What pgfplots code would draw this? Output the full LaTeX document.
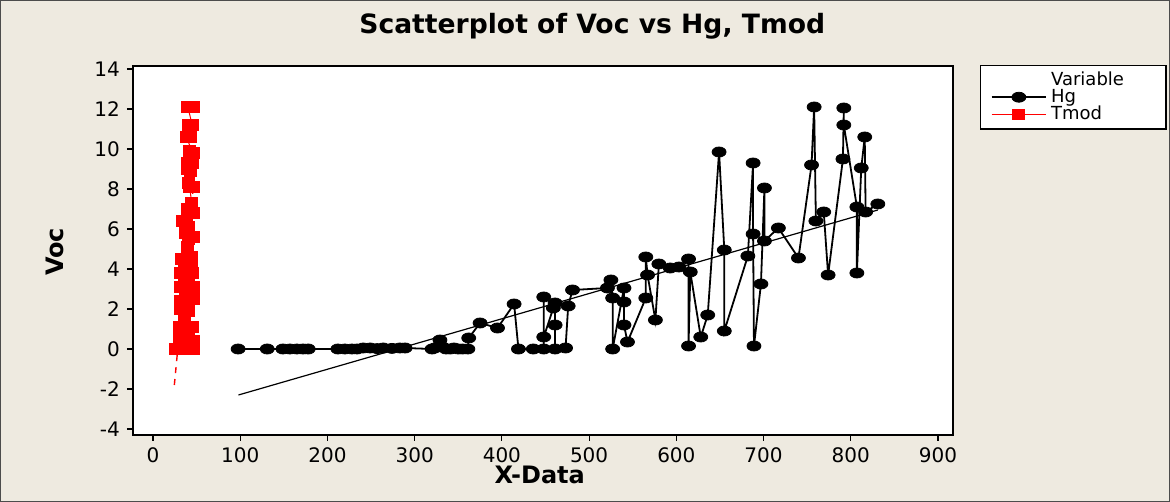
\documentclass[border=0pt]{standalone}
\usepackage{pgfplots}
\pgfplotsset{compat=1.18}
\usepackage{fontspec}
\setmainfont{DejaVu Sans}
\definecolor{bgbeige}{RGB}{238,234,224}

\pgfplotstableread{
x y
97.6 0
131 0
149 0
157 0
165 0
172 0
178 0
212 0
220 0
228 0
234 0
241 0.05
249 0.05
257 0.02
264 0.05
274 0.03
283 0.05
289 0.05
320 0
323 0.05
329 0.45
332 0.1
336 0
341 0
345 0.05
350 0
355 0
361 0
362 0.55
375 1.3
395 1.05
414 2.25
419 0
436 0
448 0
448 2.6
448 0.6
459 2.05
461 2.3
461 1.2
461 0
473 0.05
476 2.15
481 2.95
521 3.05
525 3.45
527 2.55
527 0
540 3.05
540 2.35
540 1.2
544 0.35
565 2.55
565 4.6
567 3.7
576 1.45
580 4.25
593 4.05
603 4.1
614 4.5
614 0.15
616 3.85
628 0.6
636 1.7
649 9.85
655 4.95
655 0.9
682 4.65
688 9.3
688 5.75
689 0.15
697 3.25
701 8.05
701 5.4
717 6.05
740 4.55
755 9.2
758 12.1
760 6.4
769 6.85
774 3.7
791 9.5
792 12.05
792 11.2
807 7.1
807 3.8
812 9.05
816 10.6
817 6.85
831 7.25
}\hgdata

\pgfplotstableread{
x y
26 0
30 0
34 0
38 0
42 0
46 0
31 0.3
47 0.4
30 0.5
35 0.6
41 0.5
30 1.1
35 1.0
40 0.9
45 1.1
32 2.0
36 1.7
41 1.9
32 2.4
37 2.6
41 2.3
46 2.5
32 3.1
37 3.2
42 3.0
47 3.1
32 3.8
36 3.5
41 3.7
45 3.8
33 4.5
36 4.3
40 4.1
44 4.2
40 4.8
44 4.6
40 5.1
37 5.8
41 5.5
46 5.6
34 6.4
38 6.3
41 6.1
40 7.0
44 7.3
46 6.8
42 8.1
46 8.1
41 8.3
39 9.0
43 8.9
40 9.3
45 9.3
42 9.9
46 9.8
38 10.6
43 10.6
41 11.2
45 11.2
40 12.1
44 12.1
47 12.1
}\tmoddata

\begin{document}
\begin{tikzpicture}
% page background: 1170x502 px at 0.5pt per px, axis box corner at the origin
\fill[bgbeige] (-66.5pt,-33.5pt) rectangle (518.5pt,217.5pt);
\draw[black!70, line width=0.6pt] (-66.2pt,-33.2pt) rectangle (518.2pt,217.2pt);
\begin{axis}[
    scale only axis,
    width=410pt, height=184.5pt,
    xmin=-22.9, xmax=917.2,
    ymin=-4.3, ymax=14.15,
    xtick={0,100,...,900},
    ytick={-4,-2,...,14},
    tick pos=left,
    tick align=outside,
    major tick length=3pt,
    axis line style={line width=0.8pt},
    tick style={black, line width=0.6pt},
    axis background/.style={fill=white},
    ticklabel style={font=\fontsize{10}{12}\selectfont},
    /pgf/number format/assume math mode=true,
    title={\textbf{Scatterplot of Voc vs Hg, Tmod}},
    title style={at={(rel axis cs:0.56,1.076)}, anchor=center, font=\fontsize{13.3}{15}\selectfont},
    xlabel={\textbf{X-Data}},
    xlabel style={at={(rel axis cs:0.496,-0.107)}, anchor=center, inner sep=0pt, font=\fontsize{12}{13}\selectfont},
    ylabel={\textbf{Voc}},
    ylabel style={at={(rel axis cs:-0.095,0.496)}, anchor=center, inner sep=0pt, font=\fontsize{12}{13}\selectfont},
    legend style={at={(rel axis cs:1.033,1.003)}, anchor=north west,
        draw=black, line width=0.6pt, fill=white,
        font=\fontsize{9}{10}\selectfont,
        row sep=-3.5pt, inner xsep=5pt, inner ysep=1pt},
    legend cell align=left,
    legend image code/.code={%
        \draw[mark repeat=2,mark phase=2,#1]
        plot coordinates {(0cm,0cm) (0.48cm,0cm) (0.96cm,0cm)};},
    clip=true,
]
\addlegendimage{empty legend}
\addlegendentry{Variable\hspace*{14pt}}

\addplot[black, line width=0.9pt, mark=*, mark size=2.5pt,
    mark options={xscale=1.4, solid, line width=0.4pt}]
    table[x=x, y=y] {\hgdata};
\addlegendentry{Hg}

\addplot[red, line width=0.5pt, mark=square*, mark size=2.6pt,
    mark options={solid, xscale=1.15}]
    table[x=x, y=y] {\tmoddata};
\addlegendentry{Tmod}

% fitted lines
\addplot[black, line width=0.6pt, forget plot] coordinates {(98,-2.3) (831,6.95)};
\addplot[red, line width=0.7pt, dashed, forget plot] coordinates {(24.5,-1.8) (47,8.5)};
\end{axis}
\end{tikzpicture}
\end{document}
